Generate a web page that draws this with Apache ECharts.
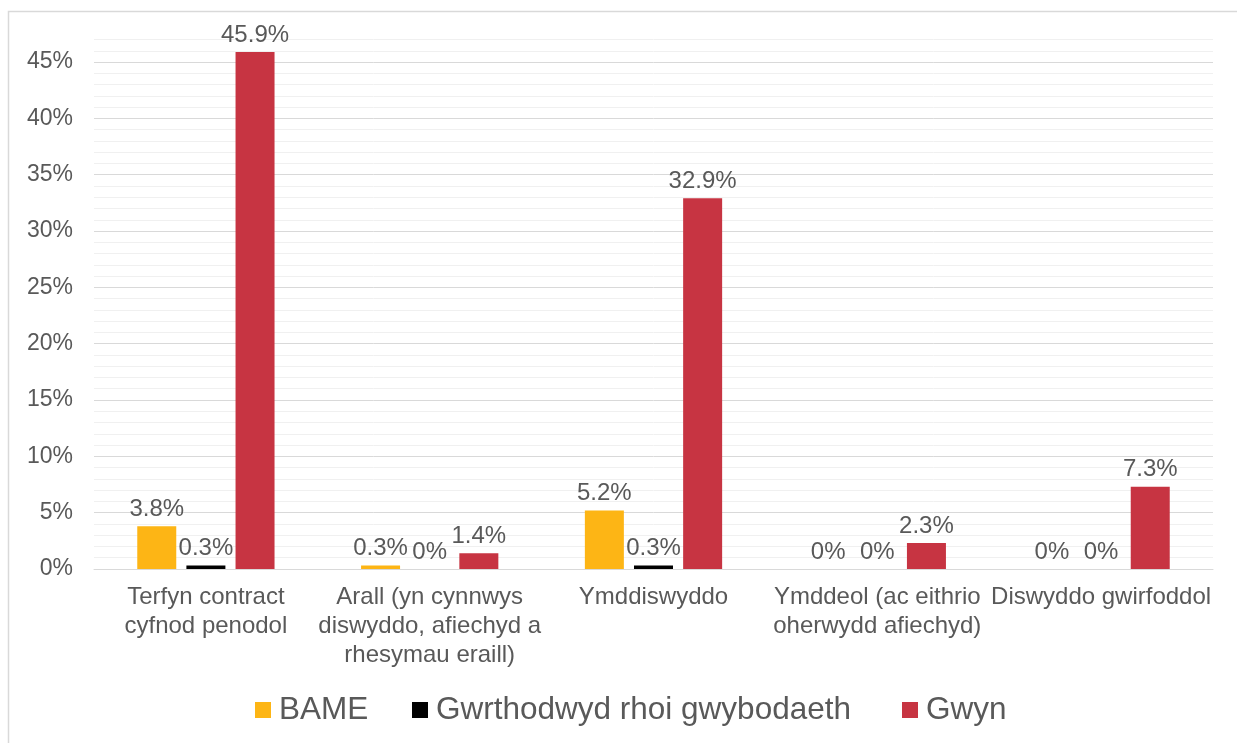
<!DOCTYPE html>
<html>
<head>
<meta charset="utf-8">
<script src="https://cdn.jsdelivr.net/npm/echarts@6/dist/echarts.min.js"></script>
<style>html,body{margin:0;padding:0;background:#fff;}#c{width:1237px;height:743px;}</style>
</head>
<body>
<div id="c"></div>
<script>
const categories = [
  'Terfyn contract\ncyfnod penodol',
  'Arall (yn cynnwys\ndiswyddo, afiechyd a\nrhesymau eraill)',
  'Ymddiswyddo',
  'Ymddeol (ac eithrio\noherwydd afiechyd)',
  'Diswyddo gwirfoddol'
];
const seriesNames = ['BAME', 'Gwrthodwyd rhoi gwybodaeth', 'Gwyn'];
const bame = [3.8, 0.3, 5.2, 0, 0];
const gwrthodwyd = [0.3, 0, 0.3, 0, 0];
const gwyn = [45.9, 1.4, 32.9, 2.3, 7.3];
const colors = ['#FDB515', '#000000', '#C73442'];

const font = 'Liberation Sans, Arial, sans-serif';
const txt = '#595959';
const chart = echarts.init(document.getElementById('c'), null, {renderer: 'canvas'});
const mk = (name, data, color) => ({
  name, type: 'bar', data, barWidth: 39, barGap: '26%',
  itemStyle: {color},
  label: {show: true, position: 'top', distance: 5, color: txt, fontFamily: font, fontSize: 24,
    formatter: p => p.value + '%'}
});
const legendLefts = [250, 407, 897];
const legends = seriesNames.map((n, i) => ({
  data: [n], left: legendLefts[i], top: 689, itemWidth: 16, itemHeight: 16,
  icon: 'rect', textStyle: {color: txt, fontSize: 31.5, fontFamily: font, padding: [0, 0, 0, 3]}
}));
chart.setOption({
  animation: false,
  textStyle: {fontFamily: font},
  graphic: [{type: 'rect', shape: {x: 8.5, y: 11.5, width: 2000, height: 2000},
    style: {fill: null, stroke: '#d9d9d9', lineWidth: 1.5}, silent: true}],
  grid: {left: 94, right: 24, top: 39.5, bottom: 174, containLabel: false},
  legend: legends,
  xAxis: {
    type: 'category', data: categories,
    axisLine: {show: true, lineStyle: {color: '#d9d9d9', width: 1}},
    axisTick: {show: false},
    axisLabel: {color: txt, fontSize: 24, fontFamily: font, lineHeight: 29, margin: 14, interval: 0}
  },
  yAxis: {
    type: 'value', min: 0, max: 47, interval: 1,
    axisLine: {show: false}, axisTick: {show: false},
    axisLabel: {color: txt, fontSize: 23, fontFamily: font, margin: 21,
      formatter: v => (v % 5 === 0 ? v + '%' : '')},
    splitLine: {show: true, lineStyle: {color: ['#d9d9d9', '#f0f0f0', '#f0f0f0', '#f0f0f0', '#f0f0f0'], width: 1}}
  },
  series: [mk(seriesNames[0], bame, colors[0]), mk(seriesNames[1], gwrthodwyd, colors[1]), mk(seriesNames[2], gwyn, colors[2])]
});
</script>
</body>
</html>
